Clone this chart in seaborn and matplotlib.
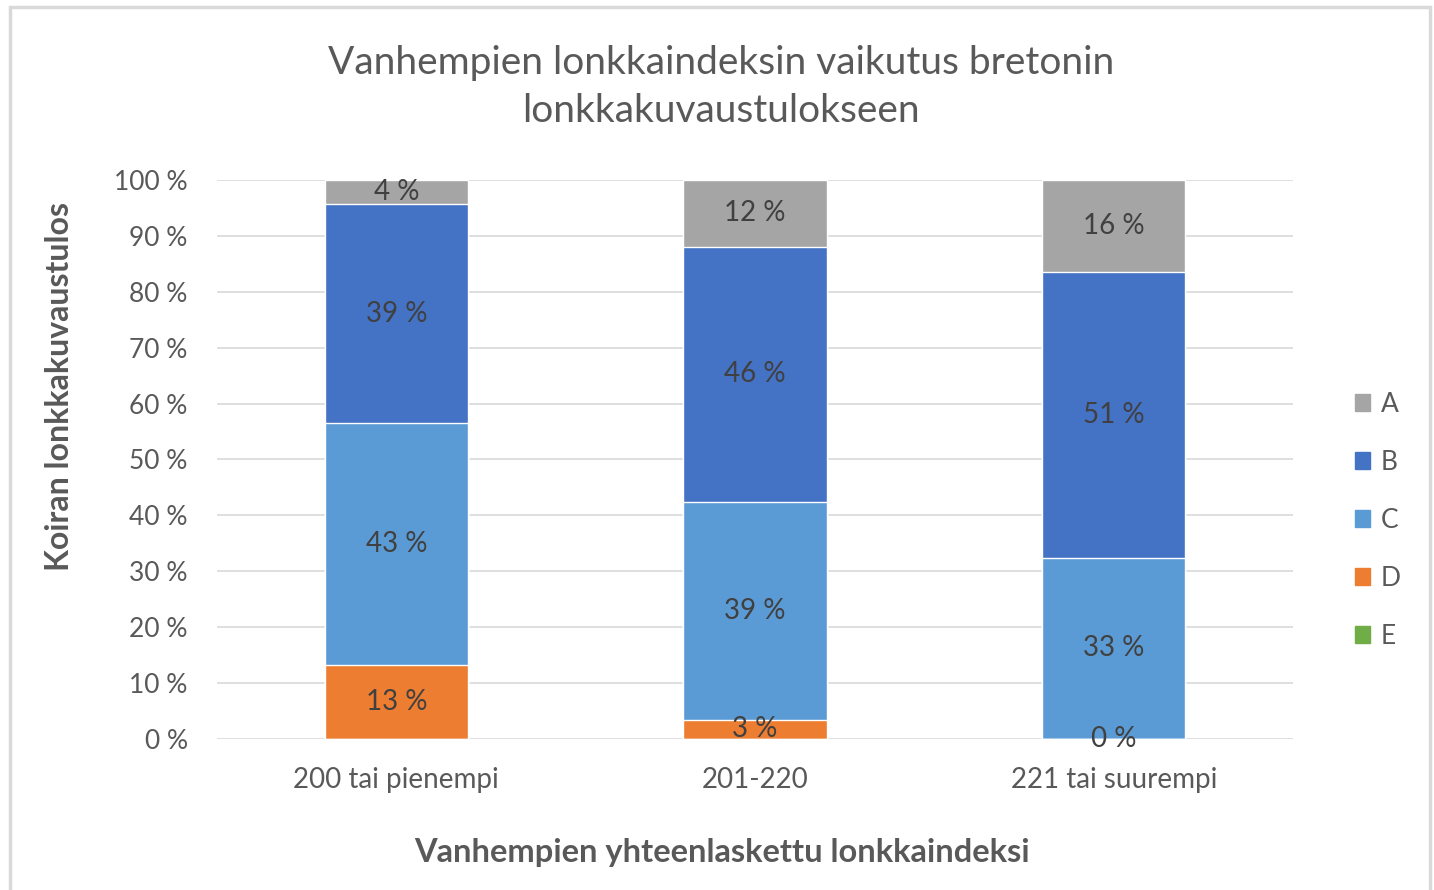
import matplotlib
matplotlib.use("Agg")
import matplotlib.pyplot as plt
import matplotlib.patches as mpatches
import numpy as np
import pandas as pd
import seaborn as sns

# data (percent shares)
groups = ["200 tai pienempi", "201-220", "221 tai suurempi"]
series = ["A", "B", "C", "D", "E"]
share_e = [0.0, 0.0, 0.0]
share_d = [13.2, 3.4, 0.0]
share_c = [43.3, 39.0, 32.4]
share_b = [39.2, 45.6, 51.2]
share_a = [4.3, 12.0, 16.4]
labels_d = ["13 %", "3 %", "0 %"]
labels_c = ["43 %", "39 %", "33 %"]
labels_b = ["39 %", "46 %", "51 %"]
labels_a = ["4 %", "12 %", "16 %"]

COLORS = {"A": "#A5A5A5", "B": "#4472C4", "C": "#5B9BD5", "D": "#ED7D31", "E": "#70AD47"}
TXT = "#595959"
FONT = "Lato"

sns.set_style("white")
plt.rcParams["font.family"] = [FONT, "DejaVu Sans"]

df = pd.DataFrame({"group": groups, "E": share_e, "D": share_d, "C": share_c,
                   "B": share_b, "A": share_a})
# cumulative tops, bottom-up stacking E, D, C, B, A
order_up = ["E", "D", "C", "B", "A"]
cum = df[order_up].cumsum(axis=1)

fig = plt.figure(figsize=(14.34, 8.9), dpi=100)
ax = fig.add_axes([0.1513, 0.1697, 0.7504, 0.6281])

# draw tallest first so each shorter cumulative bar covers the one below
for s in reversed(order_up):
    sns.barplot(x=df["group"], y=cum[s], color=COLORS[s], width=0.40,
                saturation=1, ax=ax, zorder=2)

# segment labels
seg_labels = {"D": labels_d, "C": labels_c, "B": labels_b, "A": labels_a}
for s, labs in seg_labels.items():
    for i, lab in enumerate(labs):
        top = cum[s].iloc[i]
        h = df[s].iloc[i]
        ax.text(i, top - h / 2, lab, ha="center", va="center",
                fontsize=20, color="#404040", zorder=3)

ax.set_ylim(0, 100)
ax.set_xlim(-0.5, 2.5)
ax.set_yticks(np.arange(0, 101, 10))
ax.set_yticklabels([f"{v} %" for v in range(0, 101, 10)], fontsize=19, color=TXT)
ax.tick_params(axis="x", labelsize=20, labelcolor=TXT, length=0, pad=20)
ax.tick_params(axis="y", length=0, pad=21)
ax.yaxis.grid(True, color="#D9D9D9", linewidth=1.2, zorder=0)
ax.set_axisbelow(True)
for sp in ax.spines.values():
    sp.set_visible(False)

ax.set_xlabel("Vanhempien yhteenlaskettu lonkkaindeksi", fontsize=23.5,
              fontweight="bold", color=TXT)
ax.xaxis.set_label_coords(0.469, -0.178)
ax.set_ylabel("Koiran lonkkakuvaustulos", fontsize=23, fontweight="bold",
              color=TXT)
ax.yaxis.set_label_coords(-0.133, 0.631)

fig.text(0.503, 0.902, "Vanhempien lonkkaindeksin vaikutus bretonin\nlonkkakuvaustulokseen",
         ha="center", va="center", fontsize=28, color=TXT, linespacing=1.4)

handles = [mpatches.Patch(color=COLORS[s], label=s) for s in series]
fig.legend(handles=handles, loc="center left", bbox_to_anchor=(0.928, 0.415),
           frameon=False, fontsize=19, handlelength=0.6, handleheight=0.6,
           handletextpad=0.4, labelspacing=1.25, labelcolor=TXT)

# outer chart frame
fig.patches.append(mpatches.Rectangle((0.007, -0.01), 0.990, 1.002, transform=fig.transFigure,
                                      fill=False, edgecolor="#D9D9D9", linewidth=2.5))

fig.savefig("out.png", dpi=100, facecolor="white")
